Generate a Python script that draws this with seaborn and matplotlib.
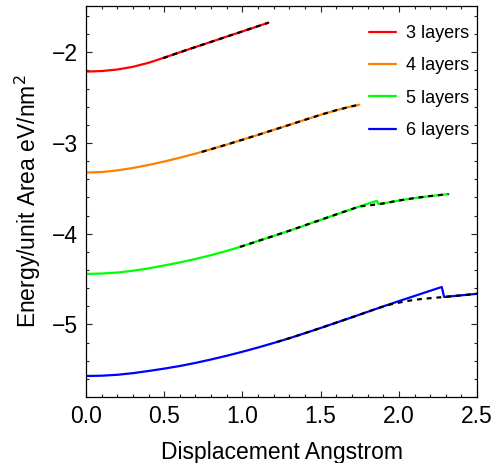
import matplotlib
matplotlib.use("Agg")
import matplotlib.pyplot as plt
import pandas as pd
import seaborn as sns
from matplotlib.ticker import MultipleLocator, FormatStrFormatter

# Layer counts and their line colours
layers = ["3 layers", "4 layers", "5 layers", "6 layers"]
colors = ["#ff0000", "#ff8000", "#00ff00", "#0000ff"]

# Computed energy per unit area (eV/nm^2) against displacement (Angstrom)
x3 = [0.0, 0.1, 0.2, 0.3, 0.4, 0.5, 0.6, 0.7, 0.8, 0.9, 1.0, 1.1, 1.166]
y3 = [-2.213, -2.207, -2.190, -2.160, -2.116, -2.059, -2.000, -1.942, -1.885,
      -1.827, -1.770, -1.712, -1.674]

x4 = [0.0, 0.1, 0.2, 0.3, 0.4, 0.5, 0.6, 0.7, 0.8, 0.9, 1.0, 1.1, 1.2, 1.3,
      1.4, 1.5, 1.6, 1.7, 1.747]
y4 = [-3.326, -3.320, -3.302, -3.275, -3.242, -3.204, -3.162, -3.117, -3.068,
      -3.017, -2.964, -2.910, -2.855, -2.800, -2.744, -2.689, -2.638, -2.595,
      -2.578]

x5 = [0.0, 0.1, 0.2, 0.3, 0.4, 0.5, 0.6, 0.7, 0.8, 0.9, 1.0, 1.1, 1.2, 1.3,
      1.4, 1.5, 1.6, 1.7, 1.8, 1.859, 1.869, 1.9, 2.0, 2.1, 2.2, 2.317]
y5 = [-4.443, -4.439, -4.428, -4.408, -4.382, -4.350, -4.316, -4.278, -4.236,
      -4.189, -4.137, -4.080, -4.024, -3.967, -3.907, -3.847, -3.787, -3.728,
      -3.669, -3.637, -3.673, -3.666, -3.634, -3.607, -3.585, -3.563]

x6 = [0.0, 0.1, 0.2, 0.3, 0.4, 0.5, 0.6, 0.7, 0.8, 0.9, 1.0, 1.1, 1.2, 1.3,
      1.4, 1.5, 1.6, 1.7, 1.8, 1.9, 2.0, 2.1, 2.2, 2.274, 2.289, 2.4, 2.5]
y6 = [-5.568, -5.565, -5.555, -5.537, -5.513, -5.487, -5.458, -5.424, -5.386,
      -5.345, -5.301, -5.254, -5.204, -5.152, -5.096, -5.039, -4.980, -4.921,
      -4.861, -4.801, -4.743, -4.686, -4.629, -4.587, -4.697, -4.679, -4.662]

# Fitted curves (black dashed) over the upper part of each series
fit3_x = [0.494, 0.6, 0.7, 0.8, 0.9, 1.0, 1.1, 1.166]
fit3_y = [-2.064, -2.000, -1.942, -1.885, -1.827, -1.770, -1.712, -1.674]

fit4_x = [0.74, 0.8, 0.9, 1.0, 1.1, 1.2, 1.3, 1.4, 1.5, 1.6, 1.7, 1.747]
fit4_y = [-3.098, -3.068, -3.017, -2.964, -2.910, -2.855, -2.800, -2.744,
          -2.689, -2.638, -2.595, -2.578]

fit5_x = [0.985, 1.1, 1.2, 1.3, 1.4, 1.5, 1.6, 1.7, 1.75, 1.805, 1.869, 1.9,
          2.0, 2.1, 2.2, 2.317]
fit5_y = [-4.145, -4.080, -4.024, -3.967, -3.907, -3.847, -3.787, -3.728,
          -3.699, -3.689, -3.673, -3.666, -3.634, -3.607, -3.585, -3.563]

fit6_x = [1.22, 1.3, 1.4, 1.5, 1.6, 1.7, 1.8, 1.859, 1.95, 2.05, 2.15, 2.289,
          2.4, 2.5]
fit6_y = [-5.194, -5.152, -5.096, -5.039, -4.980, -4.921, -4.861, -4.824,
          -4.778, -4.742, -4.718, -4.697, -4.679, -4.662]

xs = [x3, x4, x5, x6]
ys = [y3, y4, y5, y6]
fxs = [fit3_x, fit4_x, fit5_x, fit6_x]
fys = [fit3_y, fit4_y, fit5_y, fit6_y]

data = pd.concat(
    [pd.DataFrame({"d": x, "e": y, "layers": name}) for x, y, name in zip(xs, ys, layers)],
    ignore_index=True,
)
fits = pd.concat(
    [pd.DataFrame({"d": x, "e": y, "layers": name}) for x, y, name in zip(fxs, fys, layers)],
    ignore_index=True,
)

sns.set_theme(style="ticks")
plt.rcParams["font.family"] = ["Liberation Sans", "DejaVu Sans"]
plt.rcParams.update({
    "text.color": "black",
    "axes.labelcolor": "black",
    "xtick.color": "black",
    "ytick.color": "black",
    "axes.edgecolor": "black",
})

fig = plt.figure(figsize=(4.97, 4.63), dpi=100)
ax = fig.add_axes([0.173, 0.1425, 0.787, 0.8445])

sns.lineplot(data=data, x="d", y="e", hue="layers", palette=colors,
             estimator=None, sort=False, linewidth=1.6, ax=ax)
sns.lineplot(data=fits, x="d", y="e", units="layers", color="black",
             estimator=None, sort=False, linewidth=1.6, legend=False,
             linestyle=(0, (2.2, 2.2)), ax=ax)

ax.set_xlim(0, 2.5)
ax.set_ylim(-5.8, -1.49)
ax.xaxis.set_major_locator(MultipleLocator(0.5))
ax.xaxis.set_minor_locator(MultipleLocator(0.1))
ax.yaxis.set_major_locator(MultipleLocator(1))
ax.yaxis.set_minor_locator(MultipleLocator(0.2))
ax.xaxis.set_major_formatter(FormatStrFormatter("%.1f"))

ax.tick_params(which="both", direction="in", top=True, right=True,
               color="#222222", width=0.8)
ax.tick_params(which="major", length=4.2, labelsize=16.5, pad=6)
ax.tick_params(which="minor", length=2.4)
for s in ax.spines.values():
    s.set_linewidth(0.9)

ax.set_xlabel("Displacement Angstrom", fontsize=16.5, labelpad=9)
ax.set_ylabel("Energy/unit Area eV/nm$^2$", fontsize=16.5, labelpad=6)

handles, labels = ax.get_legend_handles_labels()
ax.legend(handles[:4], labels[:4], loc="upper left",
          bbox_to_anchor=(369 / 497, 1 - 25 / 463), bbox_transform=fig.transFigure,
          frameon=False, fontsize=13, handlelength=1.5, handletextpad=0.55,
          labelspacing=0.85, borderpad=0, borderaxespad=0)

fig.savefig("out.png", dpi=100)
